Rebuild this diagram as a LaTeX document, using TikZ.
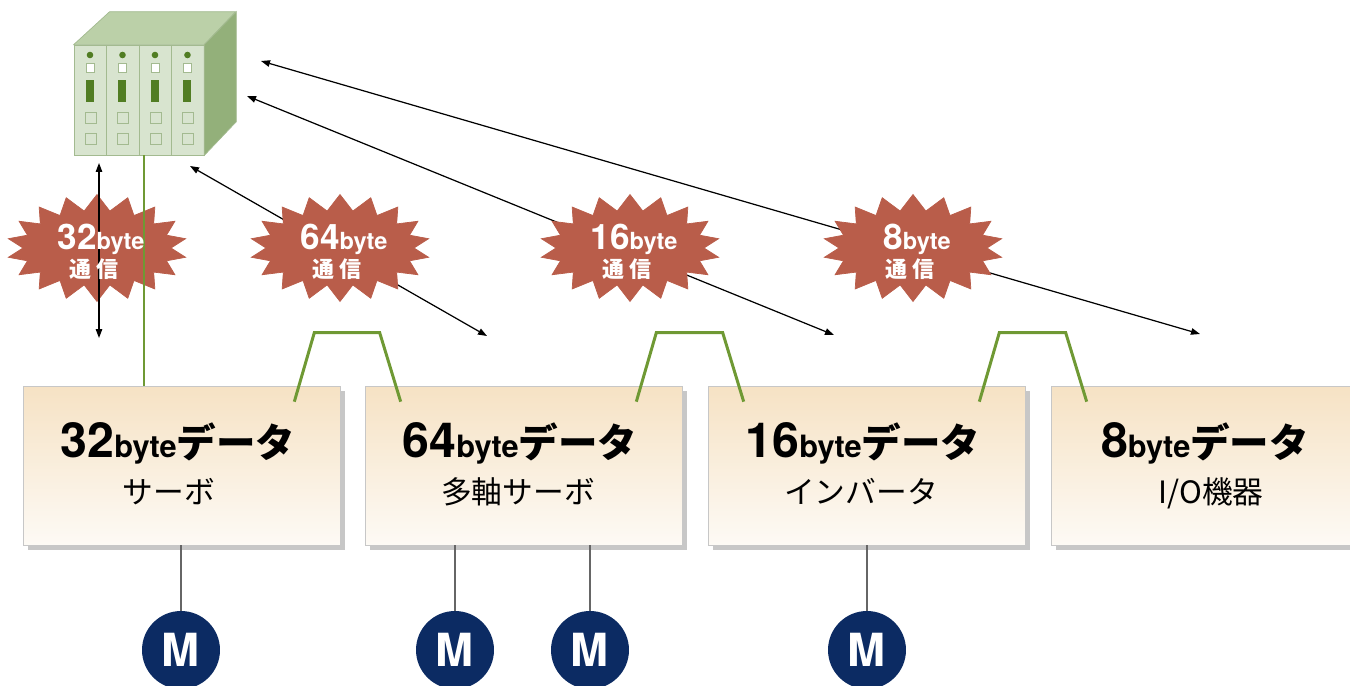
\documentclass[tikz,border=0pt]{standalone}
\usepackage{fontspec}
\setmainfont{TeX Gyre Heros}
\newfontfamily\jp{Noto Sans CJK JP}
\usetikzlibrary{arrows.meta,shapes.symbols,shadows,positioning,calc}

\definecolor{plcfront}{HTML}{D8E4CF}
\definecolor{plctop}{HTML}{BBD0A8}
\definecolor{plcside}{HTML}{93B07A}
\definecolor{plcline}{HTML}{A3BA90}
\definecolor{lamp}{HTML}{517D23}
\definecolor{busgreen}{HTML}{6F9934}
\definecolor{burstred}{HTML}{B95D4A}
\definecolor{navy}{HTML}{0C2B63}
\definecolor{boxtop}{HTML}{F6E2C4}
\definecolor{boxbot}{HTML}{FDFAF5}

% big number + "byte" in the data boxes
\newcommand\databytes[1]{{\fontsize{27.5}{28}\selectfont #1}{\fontsize{17.5}{18}\selectfont byte}{\jp\bfseries\fontsize{22.5}{23}\selectfont データ}}
% same for the bursts
\newcommand\commbytes[1]{{\fontsize{20}{20}\selectfont #1}{\fontsize{13.4}{14}\selectfont byte}}

\begin{document}
\begin{tikzpicture}[x=0.02cm,y=-0.02cm,>={Triangle[length=0.18cm,width=0.13cm]},
    devbox/.style={draw=black!22, top color=boxtop, bottom color=boxbot, minimum width=6.34cm, minimum height=3.18cm, inner sep=0pt,
                   drop shadow={shadow xshift=0.1cm, shadow yshift=-0.1cm, fill=black!22, opacity=1}},
    title/.style={anchor=base, font=\bfseries},
    sub/.style={anchor=base, font=\jp\fontsize{17.5}{18}\selectfont},
    burst/.style={starburst, starburst points=18, starburst point height=0.32cm, random starburst=0,
                  fill=burstred, draw=burstred, minimum width=3.6cm, minimum height=2.14cm},
    blabel/.style={anchor=base, text=white, font=\bfseries},
    motor/.style={circle, fill=navy, text=white, minimum size=1.56cm, inner sep=0pt, font=\bfseries\fontsize{26}{26}\selectfont},
    bus/.style={draw=busgreen, line width=1.7pt},
    drop/.style={draw=black!60, line width=0.7pt},
    link/.style={<->, line width=0.7pt}]
  \useasboundingbox (0,0) rectangle (1350,686);
  \clip (0,0) rectangle (1350,686);

  % end points of the transfers
  \coordinate (a32) at (99,163);   \coordinate (b32) at (99,338);
  \coordinate (a64) at (190,166);  \coordinate (b64) at (487,336);
  \coordinate (a16) at (247,96);   \coordinate (b16) at (834,335);
  \coordinate (a8)  at (261,61);   \coordinate (b8)  at (1200,334);

  \path[link] (a64) edge (b64)
              (a16) edge (b16)
              (a8)  edge (b8);

  % bursts
  \foreach \n/\x in {c32/97, c64/340, c16/630, c8/913}
    \node[burst] (\n) at (\x,248) {};

  % controller
  \node[draw=plcline, fill=plcfront, minimum width=2.6cm, minimum height=2.2cm, inner sep=0pt] (plc) at (139,100) {};
  \filldraw[fill=plctop, draw=plcline] (plc.north west) -- ++(36,-33) -- ++(126,0) -- (plc.north east) -- cycle;
  \filldraw[fill=plcside, draw=plcline] (plc.north east) -- ++(32,-33) -- ++(0,110) -- (plc.south east) -- cycle;
  \foreach \i in {1,2,3}
    \draw[plcline] (74+32.5*\i,45) -- ++(0,110);
  \foreach \i in {0,...,3}{
    \begin{scope}[xshift=\i*0.65cm]
      \fill[lamp] (90,55) circle (0.066cm);
      \draw[plcline, fill=white] (86,63) rectangle (94,72);
      \fill[lamp] (86,80) rectangle (94,102);
      \draw[plcline] (85,112) rectangle (96,123);
      \draw[plcline] (85,133) rectangle (96,144);
    \end{scope}
  }

  % devices
  \node[devbox] (srv)  at (181.5,465.5) {};
  \node[devbox] (msrv) at (523.5,465.5) {};
  \node[devbox] (inv)  at (866.5,465.5) {};
  \node[devbox] (io)   at (1209.5,465.5) {};

  \node[title] (srvt)  at (178,457)  {\databytes{32}};
  \node[sub]   (srvs)  at (169,503)  {サーボ};
  \node[title] (msrvt) at (520,457)  {\databytes{64}};
  \node[sub]   (msrvs) at (518,503)  {多軸サーボ};
  \node[title] (invt)  at (863,457)  {\databytes{16}};
  \node[sub]   (invs)  at (861,503)  {インバータ};
  \node[title] (iot)   at (1205,457) {\databytes{8}};
  \node[sub]   (ios)   at (1211,503) {I/O機器};

  % network
  \draw[bus] ([xshift=0.1cm]plc.south) -- ([xshift=0.1cm]plc.south |- srv.north);
  \foreach \l/\r in {srv/msrv, msrv/inv, inv/io}
    \draw[bus] ($(\l.north east)+(-46,16)$) -- ($(\l.north east)+(-26,-53)$)
            -- ($(\r.north west)+(15,-53)$) -- ($(\r.north west)+(36,16)$);
  \draw[link] (a32) -- (b32);

  % burst texts
  \foreach \n/\v in {c32/32, c64/64, c16/16, c8/8} {
    \node[blabel] at ($(\n.center)+(4,2)$) {\commbytes{\v}};
    \node[blabel, font=\jp\bfseries\fontsize{12.5}{13}\selectfont] at ($(\n.center)+(-3,29)$) {通\hspace{2.5pt}信};
  }

  % motors
  \node[motor] (m1) at (181,650) {M};
  \node[motor] (m2) at (455,650) {M};
  \node[motor] (m3) at (590,650) {M};
  \node[motor] (m4) at (867,650) {M};
  \draw[drop] (srv.south -| m1) -- (m1);
  \draw[drop] (msrv.south -| m2) -- (m2);
  \draw[drop] (msrv.south -| m3) -- (m3);
  \draw[drop] (inv.south -| m4) -- (m4);
\end{tikzpicture}
\end{document}
